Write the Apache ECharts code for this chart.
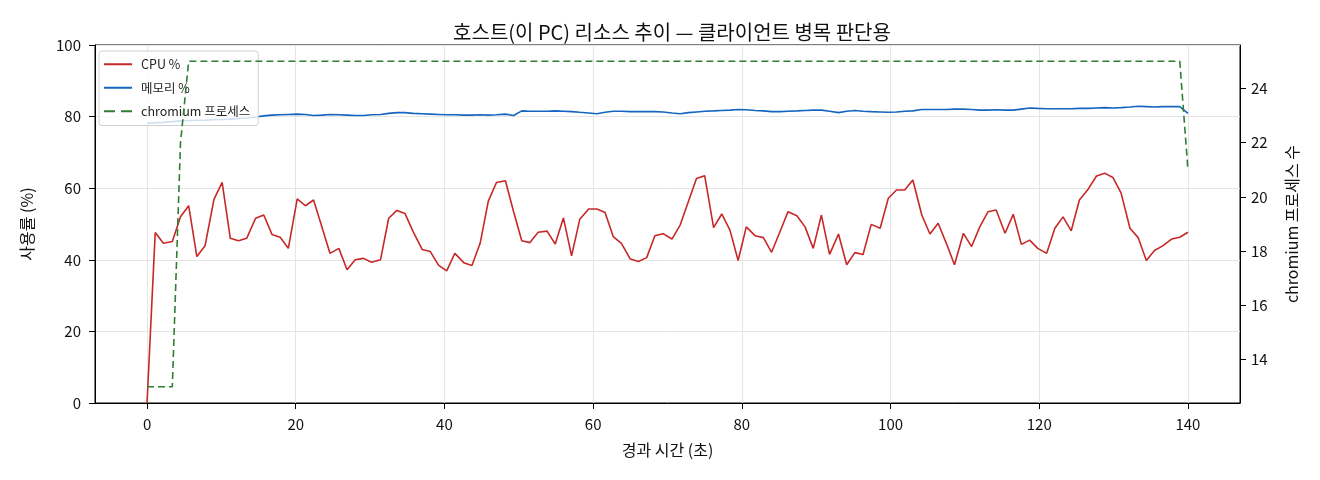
<!DOCTYPE html>
<html>
<head>
<meta charset="utf-8">
<script src="https://cdn.jsdelivr.net/npm/echarts@6/dist/echarts.min.js"></script>
<style>
  html, body { margin: 0; padding: 0; background: #fff; }
  #chart { width: 1320px; height: 480px; }
</style>
</head>
<body>
<div id="chart"></div>
<script>
// elapsed time of each sample (s)
const elapsed = [
  0.0, 1.1, 2.2, 3.4, 4.5, 5.6, 6.7, 7.8, 9.0, 10.1,
  11.2, 12.3, 13.4, 14.6, 15.7, 16.8, 17.9, 19.0, 20.2, 21.3,
  22.4, 23.5, 24.6, 25.8, 26.9, 28.0, 29.1, 30.2, 31.4, 32.5,
  33.6, 34.7, 35.8, 37.0, 38.1, 39.2, 40.3, 41.4, 42.6, 43.7,
  44.8, 45.9, 47.0, 48.2, 49.3, 50.4, 51.5, 52.6, 53.8, 54.9,
  56.0, 57.1, 58.2, 59.4, 60.5, 61.6, 62.7, 63.8, 65.0, 66.1,
  67.2, 68.3, 69.4, 70.6, 71.7, 72.8, 73.9, 75.0, 76.2, 77.3,
  78.4, 79.5, 80.6, 81.8, 82.9, 84.0, 85.1, 86.2, 87.4, 88.5,
  89.6, 90.7, 91.8, 93.0, 94.1, 95.2, 96.3, 97.4, 98.6, 99.7,
  100.8, 101.9, 103.0, 104.2, 105.3, 106.4, 107.5, 108.6, 109.8, 110.9,
  112.0, 113.1, 114.2, 115.4, 116.5, 117.6, 118.7, 119.8, 121.0, 122.1,
  123.2, 124.3, 125.4, 126.6, 127.7, 128.8, 129.9, 131.0, 132.2, 133.3,
  134.4, 135.5, 136.6, 137.8, 138.9, 140.0
];

const cpuPct = [
  0, 47.6, 44.6, 45.1, 52.0, 55.1, 40.9, 43.9, 56.9, 61.6,
  46.0, 45.3, 46.0, 51.6, 52.5, 47.1, 46.3, 43.2, 57.0, 55.1,
  56.7, 49.3, 41.8, 43.2, 37.2, 40.0, 40.4, 39.3, 40.0, 51.6,
  53.8, 52.9, 47.8, 42.9, 42.3, 38.5, 36.9, 41.8, 39.2, 38.4,
  44.6, 56.4, 61.6, 62.1, 53.4, 45.3, 44.8, 47.7, 48.0, 44.4,
  51.7, 41.1, 51.3, 54.2, 54.2, 53.2, 46.5, 44.6, 40.2, 39.5,
  40.6, 46.7, 47.3, 45.8, 49.7, 56.2, 62.7, 63.5, 49.0, 52.8,
  48.3, 39.8, 49.2, 46.7, 46.2, 42.1, 47.7, 53.4, 52.3, 49.2,
  43.2, 52.5, 41.5, 47.2, 38.6, 42.0, 41.5, 49.9, 48.8, 57.2,
  59.5, 59.5, 62.3, 52.5, 47.2, 50.2, 44.6, 38.6, 47.4, 43.7,
  49.2, 53.4, 53.9, 47.4, 52.7, 44.3, 45.5, 43.2, 41.8, 48.8,
  52.0, 48.1, 56.7, 59.8, 63.4, 64.2, 63.0, 58.7, 48.8, 46.2,
  39.8, 42.6, 43.9, 45.8, 46.3, 47.7
];

const memPct = [
  78.1, 78.3, 78.4, 78.6, 78.8, 78.9, 79.0, 79.0, 79.1, 79.2,
  79.3, 79.5, 79.6, 79.9, 80.2, 80.4, 80.5, 80.6, 80.7, 80.6,
  80.3, 80.4, 80.6, 80.5, 80.4, 80.3, 80.3, 80.5, 80.6, 80.9,
  81.1, 81.1, 80.9, 80.8, 80.7, 80.6, 80.5, 80.5, 80.4, 80.4,
  80.5, 80.4, 80.5, 80.7, 80.3, 81.6, 81.5, 81.5, 81.5, 81.6,
  81.5, 81.4, 81.2, 81.0, 80.8, 81.2, 81.5, 81.5, 81.4, 81.4,
  81.4, 81.4, 81.3, 81.0, 80.8, 81.1, 81.3, 81.5, 81.6, 81.7,
  81.8, 82.0, 81.9, 81.7, 81.6, 81.4, 81.4, 81.5, 81.6, 81.7,
  81.8, 81.8, 81.5, 81.1, 81.5, 81.7, 81.5, 81.4, 81.3, 81.2,
  81.3, 81.5, 81.6, 82.0, 82.0, 82.0, 82.0, 82.1, 82.1, 82.0,
  81.8, 81.8, 81.9, 81.8, 81.8, 82.1, 82.4, 82.3, 82.2, 82.2,
  82.2, 82.2, 82.3, 82.3, 82.4, 82.5, 82.4, 82.5, 82.7, 82.9,
  82.8, 82.7, 82.8, 82.8, 82.8, 80.9
];

const chromiumProcs = [
  13, 13, 13, 13, 22, 25, 25, 25, 25, 25,
  25, 25, 25, 25, 25, 25, 25, 25, 25, 25,
  25, 25, 25, 25, 25, 25, 25, 25, 25, 25,
  25, 25, 25, 25, 25, 25, 25, 25, 25, 25,
  25, 25, 25, 25, 25, 25, 25, 25, 25, 25,
  25, 25, 25, 25, 25, 25, 25, 25, 25, 25,
  25, 25, 25, 25, 25, 25, 25, 25, 25, 25,
  25, 25, 25, 25, 25, 25, 25, 25, 25, 25,
  25, 25, 25, 25, 25, 25, 25, 25, 25, 25,
  25, 25, 25, 25, 25, 25, 25, 25, 25, 25,
  25, 25, 25, 25, 25, 25, 25, 25, 25, 25,
  25, 25, 25, 25, 25, 25, 25, 25, 25, 25,
  25, 25, 25, 25, 25, 21
];

const xTicks = [0, 20, 40, 60, 80, 100, 120, 140];
const procTicks = [14, 16, 18, 20, 22, 24];

const FONT = '"Noto Sans CJK KR", "Noto Sans", sans-serif';
const RED = '#c62828', BLUE = '#1565c0', GREEN = '#2e7d32';
const pair = (ys) => elapsed.map((t, i) => [t, ys[i]]);

// legend handles drawn as plain strokes (solid / dashed), no marker
const SOLID_ICON = 'path://M0,0h28v1h-28z';
const DASH_ICON = 'path://M0,0h11v1h-11zM17,0h11v1h-11z';

const chart = echarts.init(document.getElementById('chart'));

const option = {
  animation: false,
  textStyle: { fontFamily: FONT },
  title: {
    text: '호스트(이 PC) 리소스 추이 — 클라이언트 병목 판단용',
    left: 667, top: 17, textAlign: 'center',
    textStyle: { fontSize: 20, fontWeight: 'normal', color: '#111', fontFamily: FONT }
  },
  grid: {
    left: 95, right: 80, top: 45, bottom: 77,
    show: true, borderColor: '#000', borderWidth: 1, backgroundColor: 'transparent'
  },
  legend: {
    orient: 'vertical', left: 99, top: 51,
    padding: [7, 8, 8, 5], itemGap: 11, itemWidth: 28, itemHeight: 2,
    symbolKeepAspect: false,
    backgroundColor: 'rgba(255,255,255,0.8)', borderColor: '#d0d0d0', borderWidth: 1, borderRadius: 3,
    textStyle: { fontSize: 12.5, color: '#222', fontFamily: FONT, padding: [0, 0, 0, 4] },
    data: [
      { name: 'CPU %', icon: SOLID_ICON },
      { name: '메모리 %', icon: SOLID_ICON },
      { name: 'chromium 프로세스', icon: DASH_ICON }
    ]
  },
  xAxis: {
    type: 'value', min: -7, max: 147,
    name: '경과 시간 (초)', nameLocation: 'middle', nameGap: 39,
    nameTextStyle: { fontSize: 16, color: '#111' },
    axisLine: { show: true, onZero: false, lineStyle: { color: '#000', width: 1 } },
    axisTick: { show: true, length: 6, lineStyle: { color: '#000' }, customValues: xTicks },
    axisLabel: { fontSize: 15, color: '#111', margin: 14, customValues: xTicks },
    splitLine: { show: true, lineStyle: { color: '#e5e5e5', width: 1 } }
  },
  yAxis: [
    {
      type: 'value', min: 0, max: 100, interval: 20,
      name: '사용률 (%)', nameLocation: 'middle', nameGap: 60, nameRotate: 90,
      nameTextStyle: { fontSize: 16, color: '#111' },
      axisLine: { show: true, onZero: false, lineStyle: { color: '#000', width: 1 } },
      axisTick: { show: true, length: 6, lineStyle: { color: '#000' } },
      axisLabel: { fontSize: 15, color: '#111', margin: 14 },
      splitLine: { show: true, lineStyle: { color: '#e5e5e5', width: 1 } }
    },
    {
      type: 'value', min: 12.4, max: 25.6, position: 'right',
      name: 'chromium 프로세스 수', nameLocation: 'middle', nameGap: 44, nameRotate: 90,
      nameTextStyle: { fontSize: 16, color: '#111' },
      axisLine: { show: true, onZero: false, lineStyle: { color: '#000', width: 1 } },
      axisTick: { show: true, length: 6, lineStyle: { color: '#000' }, customValues: procTicks },
      axisLabel: { fontSize: 15, color: '#111', margin: 11, customValues: procTicks },
      splitLine: { show: false }
    }
  ],
  series: [
    {
      name: 'CPU %', type: 'line', yAxisIndex: 0, symbol: 'none', z: 2,
      lineStyle: { color: RED, width: 1.6 }, itemStyle: { color: RED },
      data: pair(cpuPct)
    },
    {
      name: '메모리 %', type: 'line', yAxisIndex: 0, symbol: 'none', z: 2,
      lineStyle: { color: BLUE, width: 1.6 }, itemStyle: { color: BLUE },
      data: pair(memPct)
    },
    {
      name: 'chromium 프로세스', type: 'line', yAxisIndex: 1, symbol: 'none', z: 5,
      lineStyle: { color: GREEN, width: 1.6, type: [7, 4] }, itemStyle: { color: GREEN },
      data: pair(chromiumProcs)
    }
  ]
};

chart.setOption(option);
window.addEventListener('resize', () => chart.resize());
</script>
</body>
</html>
